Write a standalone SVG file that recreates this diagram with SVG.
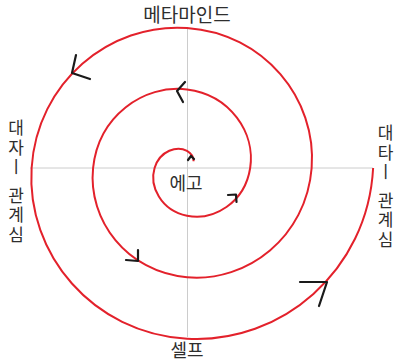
<svg xmlns="http://www.w3.org/2000/svg" width="398" height="363" viewBox="0 0 398 363">
<style>
.lbl{font-family:"Noto Sans CJK KR","Noto Sans",sans-serif;fill:#2e2e2e;text-anchor:middle}
.vlbl{font-family:"Noto Sans CJK KR","Noto Sans",sans-serif;fill:#2e2e2e;writing-mode:vertical-rl;text-anchor:start;font-size:17px;letter-spacing:2.5px}
.axis{stroke:#cccccc;stroke-width:1;fill:none}
.spiral{stroke:#e3212b;stroke-width:2;fill:none}
.arrow{stroke:#1a1a1a;stroke-width:2.2;fill:none;stroke-linecap:round;stroke-linejoin:round}
</style>
<rect width="398" height="363" fill="#ffffff"/>
<g id="axes">
<path class="axis" d="M30,168H373"/>
<path class="axis" d="M187.5,27V337"/>
</g>
<g id="connectors">
<path class="spiral" d="M193.6,161.2 C193.6,157.65 191.44,153.48 187,150.94 C177.58,145.54 159.97,150.09 154.57,168 C149.17,185.91 160.6,210.4 187,215.8 C213.4,221.2 244.77,202.89 250.17,168 C255.57,133.11 230.38,94.86 187,89.46 C143.62,84.06 98.49,116.13 93.09,168 C87.69,219.87 126.64,271.88 187,277.28 C247.36,282.68 306.25,236.84 311.65,168 C317.05,99.16 264.33,33.38 187,27.98 C109.67,22.58 37.01,82.18 31.61,168 C26.21,253.82 92.69,333.36 187,338.76 C281.31,344.16 367.73,270.8 373.13,168"/>
<path class="arrow" d="M76,55 L72,73 L90,79"/>
<path class="arrow" d="M185,82 L177,91 L183,102"/>
<path class="arrow" d="M138,250 L138,261 L126,260"/>
<path class="arrow" d="M228,195 L236,194.5 L236.5,202"/>
<path class="arrow" d="M300,282 L327,282 L319,306"/>
<path class="arrow" d="M188,160 L191,156 L194,159"/>
</g>
<g id="node-metamind"><text class="lbl" x="187" y="22" font-size="19">메타마인드</text></g>
<g id="node-ego"><text class="lbl" x="186" y="190" font-size="18">에고</text></g>
<g id="node-self"><text class="lbl" x="187" y="357" font-size="18">셀프</text></g>
<g id="node-left"><text class="vlbl" x="16" y="119.5">대자ㅣ<tspan dy="8.5">관계심</tspan></text></g>
<g id="node-right"><text class="vlbl" x="385.5" y="124.5">대타ㅣ<tspan dy="8.5">관계심</tspan></text></g>
</svg>
